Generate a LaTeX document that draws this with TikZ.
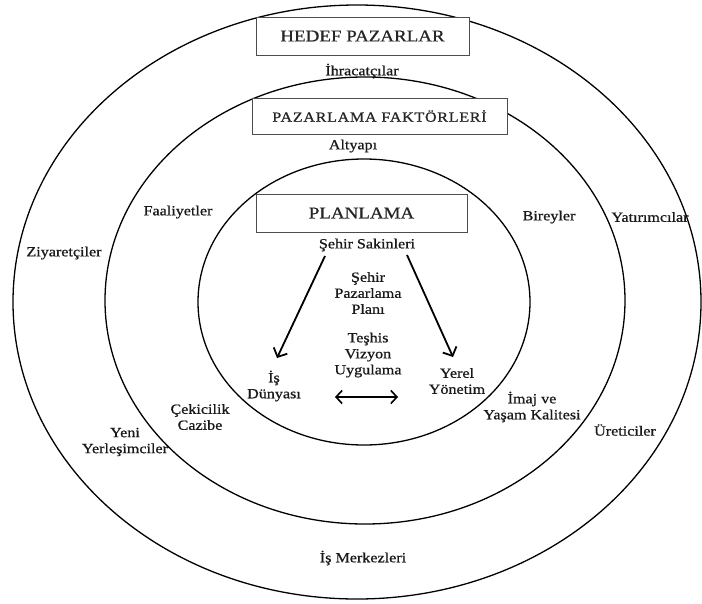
\documentclass[tikz,border=0pt]{standalone}
\usepackage{fontspec}
\setmainfont{Liberation Serif}[FakeStretch=1.15,FakeBold=0.8]
\usetikzlibrary{arrows.meta}
\begin{document}
\begin{tikzpicture}[x=1pt,y=-1pt,
  ring/.style={draw=black,line width=1.3pt},
  titlebox/.style={draw=black!70,line width=0.9pt,fill=white},
  lbl/.style={font=\fontsize{14}{16}\selectfont,align=center,inner sep=1pt,text=black!90},
  bigtitle/.style={font=\fontsize{16.5}{19}\selectfont,text=black!85},
  flow/.style={line width=1.8pt,-{Straight Barb[length=7pt,width=15pt]}},
  both/.style={line width=1.6pt,{Straight Barb[length=6pt,width=13pt]}-{Straight Barb[length=6pt,width=13pt]}}]
\useasboundingbox (0,0) rectangle (702,603);
\fill[white] (0,0) rectangle (702,603);
% rings
\draw[ring] (357,302) ellipse [x radius=344, y radius=297];
\draw[ring] (365,300.5) ellipse [x radius=260, y radius=223.5];
\draw[ring] (364,302) ellipse [x radius=166, y radius=143];
% title boxes
\node[titlebox,minimum width=213pt,minimum height=38pt,inner sep=0pt] (hedefbox) at (362.5,36) {};
\node[bigtitle] (hedef) at (362.5,36) {HEDEF PAZARLAR};
\node[titlebox,minimum width=255pt,minimum height=36pt,inner sep=0pt] (faktorbox) at (379.5,116) {};
\node[font=\fontsize{14}{16}\selectfont\addfontfeature{LetterSpace=5},text=black!85] (faktor) at (379.5,116) {PAZARLAMA FAKTÖRLERİ};
\node[titlebox,minimum width=211pt,minimum height=38pt,inner sep=0pt] (planbox) at (361.5,213) {};
\node[bigtitle] (plan) at (361.5,213) {PLANLAMA};
% labels
\node[lbl] (ihr) at (362,71) {İhracatçılar};
\node[lbl] (alt) at (353,146) {Altyapı};
\node[lbl] (sakin) at (367,245) {Şehir Sakinleri};
\node[lbl] (spp) at (368,293) {Şehir\\Pazarlama\\Planı};
\node[lbl] (tvu) at (368,355) {Teşhis\\Vizyon\\Uygulama};
\node[lbl] (isd) at (274,386) {İş\\Dünyası};
\node[lbl] (yy) at (457,381) {Yerel\\Yönetim};
\node[lbl] (ziy) at (64,253) {Ziyaretçiler};
\node[lbl] (faal) at (178,212) {Faaliyetler};
\node[lbl] (bir) at (549,217) {Bireyler};
\node[lbl] (yat) at (650,217) {Yatırımcılar};
\node[lbl] (cek) at (200,417) {Çekicilik\\Cazibe};
\node[lbl] (yeni) at (125,442) {Yeni\\Yerleşimciler};
\node[lbl] (imaj) at (532,407) {İmaj ve\\Yaşam Kalitesi};
\node[lbl] (uret) at (625,430) {Üreticiler};
\node[lbl] (ism) at (363,558) {İş Merkezleri};
% arrows
\coordinate (la) at (325,256);
\coordinate (lb) at (277,358);
\coordinate (ra) at (407,255);
\coordinate (rb) at (453,357);
\coordinate (da) at (335,397);
\coordinate (db) at (398,397);
\draw[flow] (la) -- (lb);
\draw[flow] (ra) -- (rb);
\draw[both] (da) -- (db);
\end{tikzpicture}
\end{document}
